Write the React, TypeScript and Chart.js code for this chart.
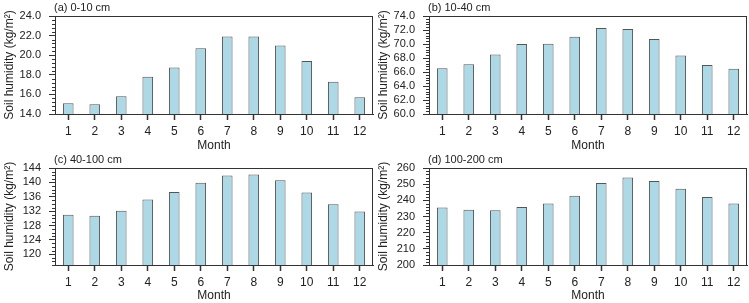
import React, { useEffect, useRef } from "react";
import { Chart, registerables } from "chart.js";

Chart.register(...registerables);

// ---- data ----
const months = ["1", "2", "3", "4", "5", "6", "7", "8", "9", "10", "11", "12"];
const depth0to10 = [15.1, 15.0, 15.8, 17.8, 18.75, 20.7, 21.9, 21.9, 21.0, 19.4, 17.3, 15.7];
const depth10to40 = [66.55, 67.1, 68.5, 70.0, 70.05, 71.05, 72.3, 72.15, 70.7, 68.35, 67.0, 66.45];
const depth40to100 = [131.0, 130.7, 132.1, 135.2, 137.3, 139.9, 141.9, 142.2, 140.6, 137.2, 133.9, 131.9];
const depth100to200 = [235.6, 234.1, 233.9, 235.8, 238.1, 242.8, 250.7, 254.2, 251.9, 247.2, 242.0, 238.1];
const panelTitles = ["(a) 0-10 cm", "(b) 10-40 cm", "(c) 40-100 cm", "(d) 100-200 cm"];
const yMins = [14, 60, 117, 200];
const yMaxs = [24, 74, 144, 260];
const majorSteps = [2, 2, 4, 10];
const minorSteps = [0.4, 0.4, 1, 2];
const tickDecimals = [1, 1, 0, 0];
const yTitle = "Soil humidity (kg/m²)";
const xTitle = "Month";

const seriesList = [depth0to10, depth10to40, depth40to100, depth100to200];

const FONT = "'Liberation Sans', Arial, sans-serif";
const TEXT = "#222";
const AXIS = "#333";

type PanelProps = {
  idx: number;
  left: number;
  top: number;
  width: number;
  height: number;
  areaTop: number;
  areaBottom: number;
  areaLeft: number;
  areaRight: number;
};

function Panel(p: PanelProps) {
  const ref = useRef<HTMLCanvasElement | null>(null);
  useEffect(() => {
    if (!ref.current) return;
    const i = p.idx;
    const yMin = yMins[i];
    const yMax = yMaxs[i];
    const major = majorSteps[i];
    const minor = minorSteps[i];

    const decor = {
      id: "decor" + i,
      afterDraw(chart: any) {
        const { ctx, chartArea } = chart;
        const ys = chart.scales.y;
        ctx.save();
        // minor ticks
        ctx.strokeStyle = AXIS;
        ctx.lineWidth = 1;
        const n = Math.round((yMax - yMin) / minor);
        for (let k = 0; k <= n; k++) {
          const v = yMin + k * minor;
          const r = v / major;
          if (Math.abs(r - Math.round(r)) < 1e-6) continue;
          const y = Math.round(ys.getPixelForValue(v)) + 0.5;
          ctx.beginPath();
          ctx.moveTo(chartArea.left - 3, y);
          ctx.lineTo(chartArea.left, y);
          ctx.stroke();
        }
        // frame
        ctx.strokeStyle = AXIS;
        ctx.lineWidth = 1;
        ctx.strokeRect(
          chartArea.left + 0.5,
          chartArea.top + 0.5,
          chartArea.right - chartArea.left - 1,
          chartArea.bottom - chartArea.top
        );
        // panel title
        ctx.fillStyle = TEXT;
        ctx.font = `11px ${FONT}`;
        ctx.textAlign = "left";
        ctx.textBaseline = "middle";
        ctx.fillText(panelTitles[i], chartArea.left - 1, chartArea.top - 8.5);
        ctx.restore();
      },
    };

    const chart = new Chart(ref.current, {
      type: "bar",
      data: {
        labels: months,
        datasets: [
          {
            data: seriesList[i],
            backgroundColor: "#add8e6",
            borderColor: "#555",
            borderWidth: 1,
            barPercentage: 0.4,
            categoryPercentage: 1,
          },
        ],
      },
      options: {
        animation: false,
        responsive: false,
        maintainAspectRatio: false,
        layout: {
          padding: { left: 0, right: p.width - p.areaRight, top: p.areaTop, bottom: 0 },
        },
        plugins: { legend: { display: false }, tooltip: { enabled: false } },
        scales: {
          x: {
            offset: true,
            grid: {
              offset: false,
              drawOnChartArea: false,
              tickLength: 6,
              color: AXIS,
              tickColor: AXIS,
              tickWidth: 1.5,
            },
            border: { display: true, color: AXIS },
            ticks: {
              color: TEXT,
              font: { family: FONT, size: 12 },
              padding: 4,
              maxRotation: 0,
              autoSkip: false,
            },
            title: {
              display: true,
              text: xTitle,
              color: TEXT,
              font: { family: FONT, size: 12 },
              padding: { top: 0, bottom: 0 },
            },
            afterFit: (s: any) => {
              s.height = p.height - p.areaBottom;
            },
          },
          y: {
            min: yMin,
            max: yMax,
            ticks: {
              stepSize: major,
              autoSkip: false,
              color: TEXT,
              font: { family: FONT, size: 11 },
              padding: 8,
              callback: (v: any) => Number(v).toFixed(tickDecimals[i]),
            },
            afterBuildTicks: (s: any) => {
              const out: any[] = [];
              const start = Math.ceil(yMin / major - 1e-9);
              const end = Math.floor(yMax / major + 1e-9);
              for (let k = start; k <= end; k++) out.push({ value: k * major });
              s.ticks = out;
            },
            grid: {
              drawOnChartArea: false,
              tickLength: 6,
              color: AXIS,
              tickColor: AXIS,
            },
            border: { display: true, color: AXIS },
            title: {
              display: true,
              text: yTitle,
              color: TEXT,
              font: { family: FONT, size: 12 },
              padding: { top: 2, bottom: 0 },
            },
            afterFit: (s: any) => {
              s.width = p.areaLeft;
            },
          },
        },
      },
      plugins: [decor],
    } as any);
    return () => chart.destroy();
  }, []);
  return (
    <canvas
      ref={ref}
      width={p.width}
      height={p.height}
      style={{ position: "absolute", left: p.left, top: p.top, width: p.width, height: p.height }}
    />
  );
}

export default function App() {
  return (
    <div
      style={{
        position: "absolute",
        left: 0,
        top: 0,
        width: 749,
        height: 303,
        background: "#fff",
        overflow: "hidden",
      }}
    >
      <Panel idx={0} left={0} top={0} width={375} height={153} areaTop={16} areaBottom={114} areaLeft={55} areaRight={373} />
      <Panel idx={1} left={374} top={0} width={375} height={153} areaTop={16} areaBottom={114} areaLeft={55} areaRight={373} />
      <Panel idx={2} left={0} top={150} width={375} height={153} areaTop={18} areaBottom={115} areaLeft={55} areaRight={373} />
      <Panel idx={3} left={374} top={150} width={375} height={153} areaTop={18} areaBottom={115} areaLeft={55} areaRight={373} />
    </div>
  );
}
